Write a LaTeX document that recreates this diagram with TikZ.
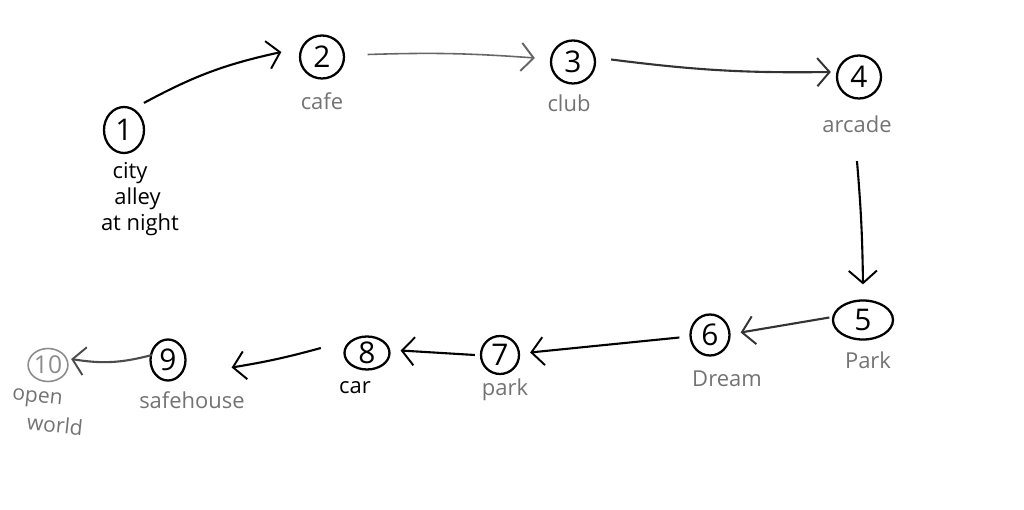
\documentclass[tikz,border=0pt]{standalone}
\usepackage{fontspec}
\setmainfont{Open Sans}
\usetikzlibrary{arrows.meta,shapes.geometric}

\begin{document}
\begin{tikzpicture}
\tikzset{etape/.style={draw, ellipse, line width=1.3pt, inner sep=0pt, minimum width=0.88cm, minimum height=0.86cm, font=\fontsize{17}{17}\selectfont},
  lieu/.style={text=black!55, font=\fontsize{12.5}{15}\selectfont},
  fleche/.style={line width=1.2pt, -{Straight Barb[length=7pt, width=16pt, line width=1.1pt]}}}
\useasboundingbox (0, 0) rectangle (20.48, 10.18);
\node[etape, minimum width=0.8cm, minimum height=0.92cm] (E1) at (2.48, 7.58) {1};
\node[etape] (E2) at (6.44, 9.04) {2};
\node[etape] (E3) at (11.46, 8.94) {3};
\node[etape] (E4) at (17.18, 8.64) {4};
\node[etape, minimum width=1.2cm, minimum height=0.78cm] (E5) at (17.26, 3.78) {5};
\node[etape, minimum width=0.78cm, minimum height=0.82cm] (E6) at (14.2, 3.48) {6};
\node[etape, minimum width=0.76cm, minimum height=0.76cm] (E7) at (10.0, 3.08) {7};
\node[etape, minimum width=0.9cm, minimum height=0.66cm] (E8) at (7.34, 3.12) {8};
\node[etape, minimum width=0.7cm, minimum height=0.82cm] (E9) at (3.36, 2.98) {9};
\node[etape, draw=black!45, text=black!45, line width=0.9pt, minimum width=0.66cm, minimum height=0.66cm, font=\fontsize{14}{14}\selectfont] (E10) at (0.96, 2.88) {10};
\node[lieu, text=black, align=center] (L1) at (2.6, 6.2) {city\\\hspace{0.3cm}alley\\\hspace{0.4cm}at night};
\node[lieu] (L2) at (6.44, 8.16) {cafe};
\node[lieu] (L3) at (11.38, 8.12) {club};
\node[lieu] (L4) at (17.14, 7.7) {arcade};
\node[lieu] (L5) at (17.36, 2.98) {Park};
\node[lieu] (L6) at (14.54, 2.6) {Dream};
\node[lieu] (L7) at (10.1, 2.38) {park};
\node[lieu, text=black] (L8) at (7.1, 2.42) {car};
\node[lieu] (L9) at (3.84, 2.18) {safehouse};
\node[lieu, rotate=-6, align=left, font=\fontsize{12}{16}\selectfont] (L10) at (0.95, 1.94) {open\\\hspace{0.35cm}world};
\draw[fleche] ([xshift=0.1cm, yshift=0.2cm]E1.north east) to[bend left=8] ([xshift=-0.35cm, yshift=0.1cm]E2.west);
\draw[fleche, black!60, line width=0.9pt] ([xshift=0.45cm, yshift=0.05cm]E2.east) to[bend left=3] ([xshift=-0.3cm, yshift=0.08cm]E3.west);
\draw[fleche, black!80] ([xshift=0.3cm, yshift=0.05cm]E3.east) to[bend right=4] ([xshift=-0.1cm, yshift=0.1cm]E4.west);
\draw[fleche] ([yshift=-0.45cm]L4.south) to[bend left=2] ([yshift=0.3cm]E5.north);
\draw[fleche, black!80] ([xshift=-0.05cm, yshift=0.05cm]E5.west) -- ([xshift=0.2cm, yshift=0.05cm]E6.east);
\draw[fleche] ([xshift=-0.2cm, yshift=-0.05cm]E6.west) -- ([xshift=0.2cm, yshift=0.05cm]E7.east);
\draw[fleche] ([xshift=-0.1cm]E7.west) -- ([xshift=0.2cm, yshift=0.05cm]E8.east);
\draw[fleche] ([xshift=-0.45cm, yshift=0.1cm]E8.west) to[bend left=3] ([xshift=0.9cm, yshift=-0.15cm]E9.east);
\draw[fleche, black!70] ([xshift=0.05cm, yshift=0.1cm]E9.west) to[bend left=12] ([xshift=0.05cm, yshift=0.12cm]E10.east);
\end{tikzpicture}
\end{document}
